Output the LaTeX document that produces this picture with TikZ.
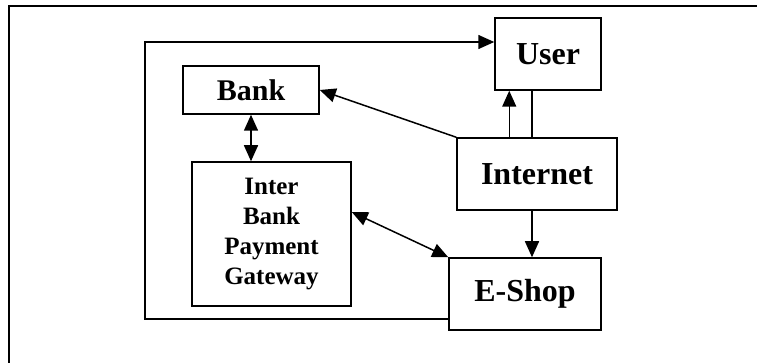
\documentclass[tikz,border=0pt]{standalone}
\usepackage{fontspec}
\setmainfont{Liberation Serif}
\usetikzlibrary{arrows.meta}
\tikzset{
  box/.style={draw,line width=1.5pt,inner sep=0pt,align=center,font=\bfseries},
  con/.style={line width=1.5pt},
  tip/.style={-{Triangle[length=16pt,width=14pt]}},
  both/.style={{Triangle[length=16pt,width=14pt]}-{Triangle[length=16pt,width=14pt]}}
}
\begin{document}
\begin{tikzpicture}[x=1pt,y=-1pt]
    \useasboundingbox (0,0) rectangle (757,363);
    \draw [con] (757,6)--(9,6)--(9,363);

    \node [box,minimum width=106pt,minimum height=72pt,font=\bfseries\fontsize{32}{36}\selectfont] (user) at (548,54) {User};
    \node [box,minimum width=136pt,minimum height=48pt,font=\bfseries\fontsize{30}{34}\selectfont] (bank) at (251,90) {Bank};
    \node [box,minimum width=160pt,minimum height=72pt,font=\bfseries\fontsize{32}{36}\selectfont] (internet) at (537,174) {Internet};
    \node [box,minimum width=159pt,minimum height=144pt,font=\bfseries\fontsize{25}{30}\selectfont] (gateway) at (271.5,234) {Inter\\Bank\\Payment\\Gateway};
    \node [box,minimum width=152pt,minimum height=72pt,font=\bfseries\fontsize{32}{36}\selectfont] (eshop) at (525,294) {E-Shop};

    \coordinate (loop) at (145,42);
    \coordinate (up) at ([xshift=15pt]user.south west);
    \coordinate (back) at ([xshift=-16pt]user.south);
    \coordinate (down) at ([xshift=-5pt]internet.south);

    \draw [con,tip] ([yshift=12pt]eshop.south west) -| (loop) -- (user.west |- loop);
    \draw [con,tip] (internet.north -| up) -- (up);
    \draw [con] (back) -- (internet.north -| back);
    \draw [con,tip] (internet.north west) -- (bank.east);
    \draw [con,tip] (down) -- (eshop.north -| down);
    \draw [con,both] (bank.south) -- (gateway.north -| bank.south);
    \draw [con,both] ([yshift=22pt]gateway.east) -- (eshop.north west);
\end{tikzpicture}
\end{document}
